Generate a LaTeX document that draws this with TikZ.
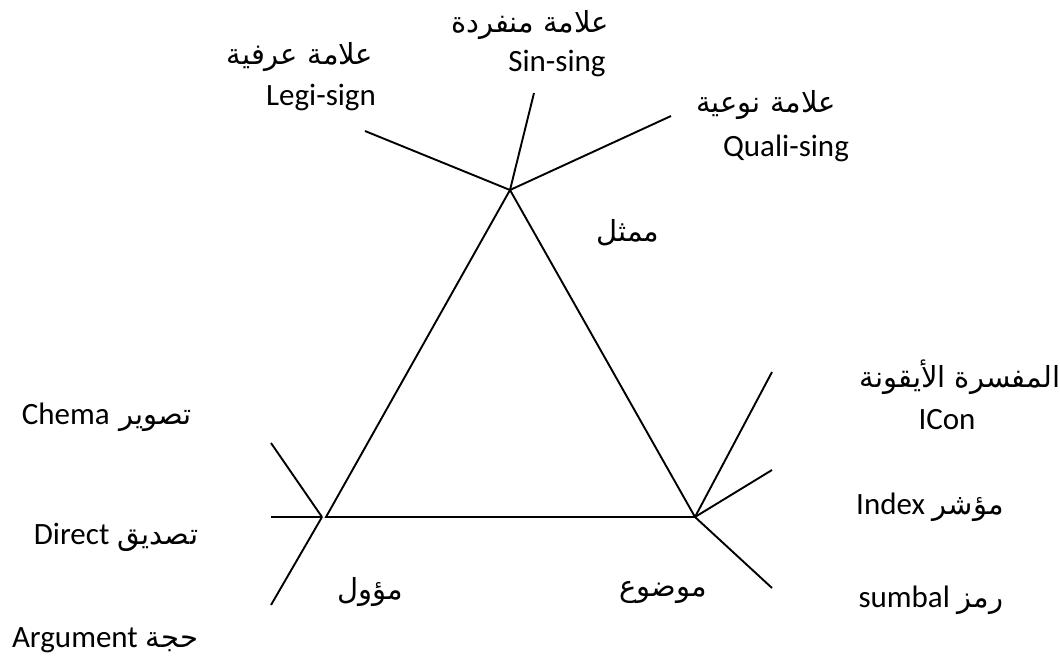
\documentclass[tikz,border=0pt]{standalone}
\usepackage{fontspec}
\setmainfont{Carlito}
\newfontfamily\arabicfont[Script=Arabic]{DejaVu Sans}
\TeXXeTstate=1
\newcommand{\ar}[1]{{\arabicfont\fontsize{14.5}{16}\selectfont\beginR #1\endR}}
\begin{document}
\begin{tikzpicture}[x=0.5pt,y=-0.5pt,
  edge/.style={line width=0.95pt,black},
  lbl/.style={inner sep=0pt,font=\fontsize{15.5}{18}\selectfont,align=center}]
\useasboundingbox (0,0) rectangle (1060,660);
% triangle vertices
\coordinate (A) at (510,190);
\coordinate (B) at (326,517);
\coordinate (C) at (695,517);
\coordinate (P) at (322,517);
% branch ends
\coordinate (legiE) at (365,131);
\coordinate (sinE) at (534,93);
\coordinate (qualiE) at (671,116);
\coordinate (chemaE) at (271,443);
\coordinate (directE) at (271,517);
\coordinate (argE) at (271,605);
\coordinate (iconE) at (772,372);
\coordinate (indexE) at (772,470);
\coordinate (symE) at (772,588);
% triangle
\draw[edge] (A) -- (B) -- (C) -- cycle;
% branches
\draw[edge] (legiE) -- (A);
\draw[edge] (sinE) -- (A);
\draw[edge] (qualiE) -- (A);
\draw[edge] (chemaE) -- (P);
\draw[edge] (directE) -- (P);
\draw[edge] (argE) -- (P);
\draw[edge] (iconE) -- (C);
\draw[edge] (indexE) -- (C);
\draw[edge] (symE) -- (C);
% labels
\node[lbl] (sinA) at (530,25) {\ar{علامة منفردة}};
\node[lbl] (sinL) at (557,63) {Sin-sing};
\node[lbl] (legiA) at (300,57) {\ar{علامة عرفية}};
\node[lbl] (legiL) at (321,97) {Legi-sign};
\node[lbl] (qualiA) at (766,105) {\ar{علامة نوعية}};
\node[lbl] (qualiL) at (786,148) {Quali-sing};
\node[lbl] (mumath) at (628,233) {\ar{ممثل}};
\node[lbl] (iconA) at (960,377) {\ar{المفسرة الأيقونة}};
\node[lbl] (iconL) at (947,420) {ICon};
\node[lbl] (index) at (930,507) {Index\hspace{4pt}\ar{مؤشر}};
\node[lbl] (sym) at (931,600) {sumbal\hspace{4pt}\ar{رمز}};
\node[lbl] (chema) at (107,417) {Chema\hspace{5pt}\ar{تصوير}};
\node[lbl] (direct) at (116,537) {Direct\hspace{4pt}\ar{تصديق}};
\node[lbl] (arg) at (105,640) {Argument\hspace{4pt}\ar{حجة}};
\node[lbl] (muawwal) at (370,592) {\ar{مؤول}};
\node[lbl] (mawdu) at (663,592) {\ar{موضوع}};
\end{tikzpicture}
\end{document}
